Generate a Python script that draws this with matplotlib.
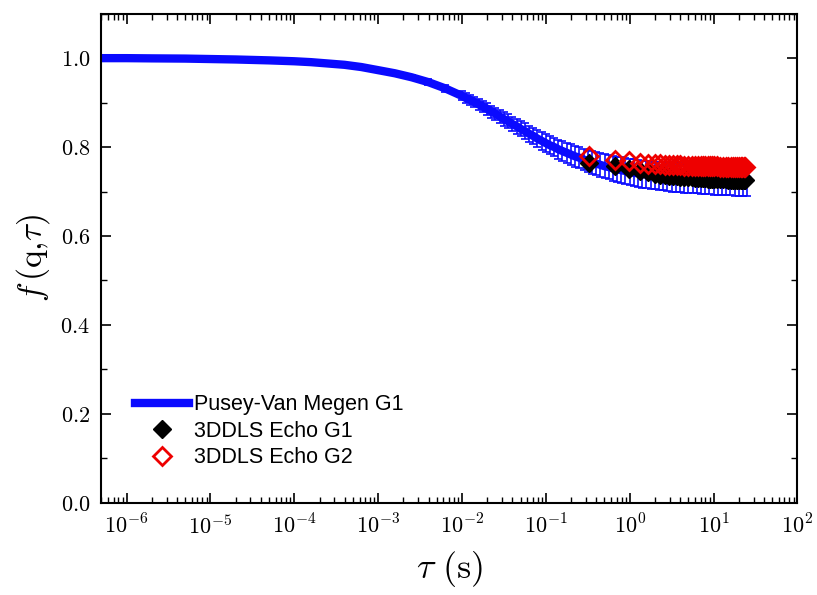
import numpy as np
import matplotlib
matplotlib.use("Agg")
import matplotlib.pyplot as plt
from matplotlib.lines import Line2D
from matplotlib.ticker import LogLocator, MultipleLocator, FuncFormatter

plt.rcParams['mathtext.fontset'] = 'cm'

# Pusey-Van Megen fit, G1
tau_fit = [5e-7, 1e-6, 2e-6, 5e-6, 1e-5, 2e-5, 5e-5, 1e-4, 1.58e-4, 2.51e-4,
           3.98e-4, 6.31e-4, 1e-3, 1.58e-3, 2.51e-3, 3.98e-3, 6.31e-3,
           0.0100, 0.0112, 0.0126, 0.0141, 0.0158, 0.0178, 0.0200, 0.0224,
           0.0251, 0.0282, 0.0316, 0.0355, 0.0398, 0.0447, 0.0501, 0.0562,
           0.0631, 0.0708, 0.0794, 0.0891,
           0.100, 0.112, 0.126, 0.141, 0.158, 0.178, 0.200, 0.224, 0.251,
           0.282, 0.316, 0.355, 0.398, 0.447, 0.501, 0.562, 0.631, 0.708,
           0.794, 0.891,
           1.00, 1.12, 1.26, 1.41, 1.58, 1.78, 2.00, 2.24, 2.51, 2.82, 3.16,
           3.55, 3.98, 4.47, 5.01, 5.62, 6.31, 7.08, 7.94, 8.91,
           10.0, 11.2, 12.6, 14.1, 15.8, 17.8, 20.0, 22.4, 25.1]
f_fit = [1.000, 1.000, 0.9995, 0.999, 0.998, 0.997, 0.995, 0.993, 0.991,
         0.988, 0.985, 0.980, 0.973, 0.966, 0.957, 0.946, 0.932,
         0.915, 0.910, 0.906, 0.901, 0.896, 0.891, 0.886, 0.880, 0.875,
         0.869, 0.863, 0.858, 0.852, 0.847, 0.841, 0.836, 0.830, 0.825,
         0.819, 0.814,
         0.809, 0.804, 0.800, 0.795, 0.791, 0.787, 0.783, 0.779, 0.776,
         0.772, 0.769, 0.766, 0.763, 0.760, 0.757, 0.755, 0.752, 0.750,
         0.748, 0.746,
         0.744, 0.742, 0.741, 0.739, 0.738, 0.737, 0.736, 0.735, 0.734,
         0.733, 0.732, 0.732, 0.731, 0.730, 0.730, 0.729, 0.729, 0.728,
         0.728, 0.728,
         0.727, 0.727, 0.727, 0.726, 0.726, 0.726, 0.726, 0.726, 0.726]
err_fit = [0, 0, 0, 0, 0, 0, 0, 0, 0, 0, 0, 0, 0.002, 0.003, 0.004, 0.006, 0.008,
           0.0100, 0.0105, 0.0110, 0.0115, 0.0120, 0.0125, 0.0130, 0.0135,
           0.0140, 0.0145, 0.0150, 0.0155, 0.0160, 0.0165, 0.0170, 0.0175,
           0.0180, 0.0185, 0.0190, 0.0195,
           0.0200, 0.0205, 0.0210, 0.0215, 0.0220, 0.0225, 0.0230, 0.0235,
           0.0240, 0.0245, 0.0250, 0.0255, 0.0260, 0.0265, 0.0270, 0.0275,
           0.0280, 0.0285, 0.0290, 0.0295,
           0.0300, 0.0302, 0.0304, 0.0306, 0.0308, 0.0310, 0.0312, 0.0314,
           0.0316, 0.0318, 0.0320, 0.0322, 0.0324, 0.0326, 0.0328, 0.0330,
           0.0332, 0.0334, 0.0336, 0.0338,
           0.0340, 0.0342, 0.0344, 0.0346, 0.0348, 0.0350, 0.0352, 0.0354,
           0.0356]

# 3DDLS echo data
tau_echo = [0.33, 0.66, 0.99, 1.32, 1.65, 1.98, 2.31, 2.64, 2.97, 3.3,
            3.63, 3.96, 4.5, 5.0, 5.5, 6.0, 6.5, 7.0, 7.5, 8.0, 8.5, 9.0,
            9.5, 10.0, 11.0, 12.0, 13.0, 14.0, 15.0, 16.0, 17.0, 18.0,
            19.0, 20.0, 21.0, 22.0, 23.0, 24.0]
g1_echo = [0.765, 0.757, 0.750, 0.746, 0.743, 0.740, 0.738, 0.737, 0.736,
           0.735, 0.734, 0.733, 0.733, 0.732, 0.732, 0.731, 0.731, 0.730,
           0.730, 0.730, 0.729, 0.729, 0.729, 0.729, 0.728, 0.728, 0.728,
           0.728, 0.727, 0.727, 0.727, 0.727, 0.727, 0.727, 0.727, 0.727,
           0.727, 0.727]
g2_echo = [0.779, 0.772, 0.768, 0.765, 0.763, 0.762, 0.761, 0.760, 0.760,
           0.759, 0.759, 0.759, 0.758, 0.758, 0.758, 0.758, 0.757, 0.757,
           0.757, 0.757, 0.757, 0.757, 0.757, 0.757, 0.757, 0.756, 0.756,
           0.756, 0.756, 0.756, 0.756, 0.756, 0.756, 0.756, 0.756, 0.756,
           0.756, 0.756]

blue = '#0a0aff'

fig = plt.figure(figsize=(8.17, 5.95), dpi=100)
ax = fig.add_axes([0.124, 0.155, 0.852, 0.822])

ax.errorbar(tau_fit, f_fit, yerr=err_fit, color=blue, lw=6,
            elinewidth=1.2, capsize=3, capthick=1.2, zorder=2)
ax.plot(tau_echo, g1_echo, 'D', color='black', ms=9, ls='none', zorder=3)
ax.plot(tau_echo, g2_echo, 'D', mfc='none', mec='#ee0000', mew=2, ms=9,
        ls='none', zorder=4)

ax.set_xscale('log')
ax.set_xlim(5e-7, 100)
ax.set_ylim(0, 1.1)

ax.xaxis.set_major_locator(LogLocator(base=10, numticks=20))
ax.xaxis.set_minor_locator(LogLocator(base=10, subs=np.arange(2, 10), numticks=100))
ax.xaxis.set_major_formatter(FuncFormatter(lambda v, p: r'$10^{%d}$' % round(np.log10(v))))
ax.yaxis.set_major_locator(MultipleLocator(0.2))
ax.yaxis.set_minor_locator(MultipleLocator(0.1))
ax.yaxis.set_major_formatter(FuncFormatter(lambda v, p: r'$%.1f$' % v))

ax.tick_params(which='both', direction='in', top=True, right=True)
ax.tick_params(which='major', length=7, width=1.2, labelsize=16, pad=8)
ax.tick_params(which='minor', length=4, width=1.0)
for s in ax.spines.values():
    s.set_linewidth(1.5)

ax.set_xlabel(r'$\tau\ (\mathrm{s})$', fontsize=26, labelpad=8)
ax.set_ylabel(r'$f\,(\mathrm{q},\!\tau)$', fontsize=24, labelpad=6)

handles = [Line2D([], [], color=blue, lw=6),
           Line2D([], [], marker='D', color='black', ms=9, ls='none'),
           Line2D([], [], marker='D', mfc='none', mec='#ee0000', mew=2, ms=9, ls='none')]
labels = ['Pusey-Van Megen G1', '3DDLS Echo G1', '3DDLS Echo G2']
ax.legend(handles, labels, loc='lower left', bbox_to_anchor=(0.036, 0.053),
          frameon=False, prop={'family': 'Liberation Sans', 'size': 15.5},
          handlelength=2.5, handletextpad=0.25, labelspacing=0.25,
          borderaxespad=0)

fig.savefig('out.png', dpi=100)
